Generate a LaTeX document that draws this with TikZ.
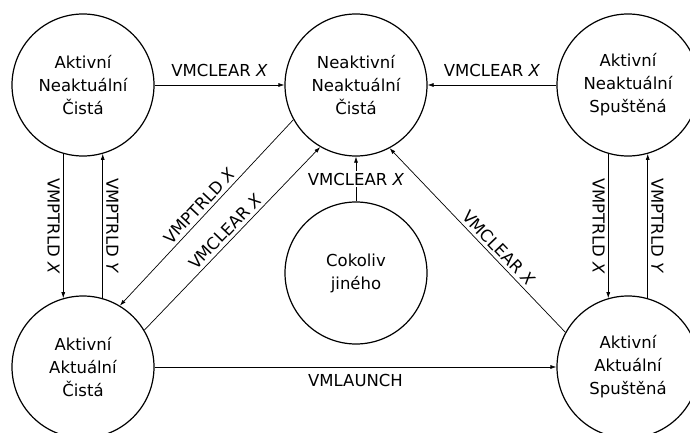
\documentclass[tikz,border=0pt]{standalone}
\usepackage{fontspec}
\setmainfont{DejaVu Sans}
\usepackage{tikz}
\usetikzlibrary{arrows.meta}
\usetikzlibrary{calc}
\newcommand{\statefont}{\fontsize{16.5}{23}\selectfont}
\tikzstyle{state}=[circle, draw, line width=1.2pt, minimum size=142pt, inner sep=0pt, align=center]
\tikzstyle{edge}=[-{Latex[length=6pt,width=4pt]}, line width=0.7pt]
\newcommand{\colL}{83}
\newcommand{\colM}{356}
\newcommand{\colR}{628}
\newcommand{\rowT}{85}
\newcommand{\rowM}{273}
\newcommand{\rowB}{367}

\begin{document}
\begin{tikzpicture}[x=1pt, y=-1pt, font=\statefont]
\useasboundingbox (0,0) rectangle (690,433);
\node[state] (anc) at (\colL,\rowT) {Aktivní\\Neaktuální\\Čistá};
\node[state] (nnc) at (\colM,\rowT) {Neaktivní\\Neaktuální\\Čistá};
\node[state] (ans) at (\colR,\rowT) {Aktivní\\Neaktuální\\Spuštěná};
\node[state] (other) at (\colM,\rowM) {Cokoliv\\jiného};
\node[state] (aac) at (\colL,\rowB) {Aktivní\\Aktuální\\Čistá};
\node[state] (aas) at (\colR,\rowB) {Aktivní\\Aktuální\\Spuštěná};
\draw[edge] (anc) -- node[above, inner sep=8pt] {VMCLEAR \textit{X}} (nnc);
\draw[edge] (ans) -- node[above, inner sep=8pt] {VMCLEAR \textit{X}} (nnc);
\draw[edge] (aac) -- node[below, inner sep=7pt] {VMLAUNCH} (aas);
\draw[edge] (anc.254) -- node[midway, rotate=-90, below] {VMPTRLD \textit{X}} (aac.106);
\draw[edge] (aac.74) -- node[midway, rotate=-90, above] {VMPTRLD \textit{Y}} (anc.286);
\draw[edge] (ans.254) -- node[midway, rotate=-90, below] {VMPTRLD \textit{X}} (aas.106);
\draw[edge] (aas.74) -- node[midway, rotate=-90, above] {VMPTRLD \textit{Y}} (ans.286);
\draw[edge] (nnc.209) -- node[midway, sloped, above] {VMPTRLD \textit{X}} (aac.59);
\draw[edge] (aac.31) -- node[midway, sloped, above] {VMCLEAR \textit{X}} (nnc.240);
\draw[edge] (aas.151) -- node[pos=0.42, sloped, above] {VMCLEAR \textit{X}} (nnc.298);
\draw[edge] (other) -- node[fill=white, inner sep=2pt] {VMCLEAR \textit{X}} (nnc);
\end{tikzpicture}
\end{document}
